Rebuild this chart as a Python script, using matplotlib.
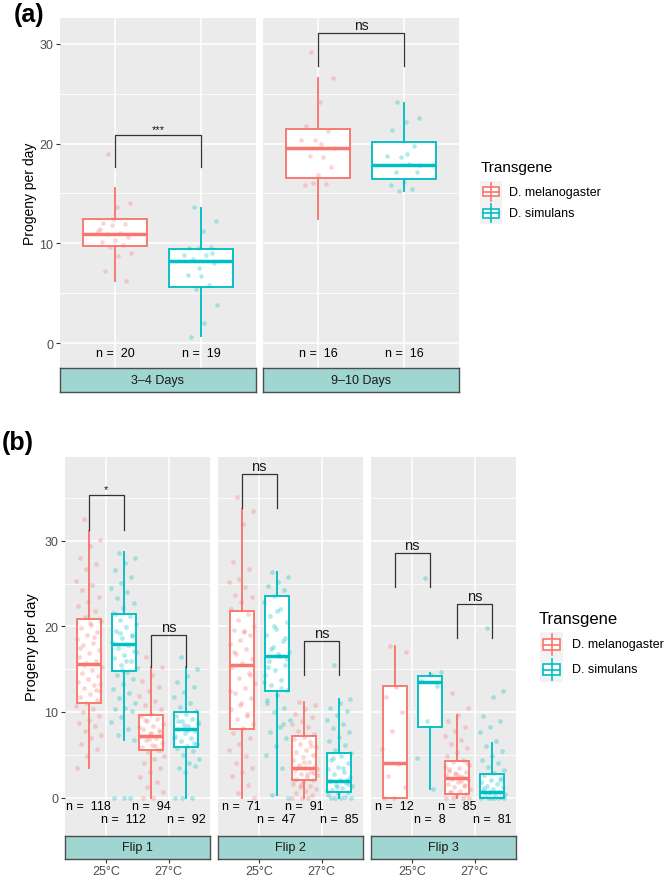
import numpy as np
import matplotlib
matplotlib.use("Agg")
import matplotlib.pyplot as plt
from matplotlib.patches import Rectangle

plt.rcParams["font.family"] = ["Liberation Sans", "DejaVu Sans"]

RED = "#F8766D"
TEAL = "#00BFC4"
PANEL_BG = "#EBEBEB"
STRIP_BG = "#9FD6D1"
W, H = 665, 878

# --- panel (a) data ---
a_facets = ["3–4 Days", "9–10 Days"]
a_groups = ["D. melanogaster", "D. simulans"]
# (whislo, q1, med, q3, whishi) for [melanogaster, simulans]
a_stats = [
    [(6.2, 9.7, 10.95, 12.4, 15.6), (0.7, 5.64, 8.26, 9.43, 13.56)],
    [(12.4, 16.6, 19.6, 21.5, 26.55), (15.3, 16.5, 17.9, 20.17, 24.1)],
]
a_n = [[20, 19], [16, 16]]
a_points = [
    [[19.0, 14.0, 13.6, 12.0, 11.9, 11.8, 11.2, 11.0, 10.9, 10.6, 10.3, 10.1, 9.8, 9.6, 9.0, 8.7, 7.25, 6.2, 12.4, 11.4],
     [13.6, 12.2, 11.2, 9.5, 9.6, 9.5, 8.85, 8.85, 8.4, 8.0, 6.7, 6.85, 5.8, 5.4, 3.8, 2.0, 0.6, 9.0, 7.5]],
    [[29.2, 26.6, 24.2, 21.8, 21.3, 20.4, 20.4, 18.7, 18.8, 17.65, 16.85, 15.85, 16.0, 16.1, 19.6, 20.0],
     [24.2, 22.6, 22.2, 21.4, 19.8, 18.7, 18.8, 18.0, 17.2, 17.2, 16.2, 15.85, 15.5, 15.25, 17.9, 19.0]],
]
a_sig = ["***", "ns"]
a_bracket = [(17.65, 20.9), (27.8, 31.1)]

# --- panel (b) data ---
b_facets = ["Flip 1", "Flip 2", "Flip 3"]
b_temps = ["25°C", "27°C"]
# per facet: [mel 25, sim 25, mel 27, sim 27]
b_stats = [
    [(3.5, 11.0, 15.55, 20.9, 31.2), (6.7, 14.8, 17.9, 21.5, 28.65),
     (0, 5.57, 7.2, 9.66, 15.2), (0, 5.85, 7.95, 10.0, 15.2)],
    [(0, 7.95, 15.5, 21.75, 33.7), (0.3, 12.5, 16.5, 23.5, 26.4),
     (0, 2.0, 3.43, 7.2, 11.2), (0, 0.7, 1.95, 5.2, 11.5)],
    [(0, 0, 4.0, 13.05, 17.75), (1.0, 8.2, 13.5, 14.2, 14.6),
     (0, 0.45, 2.3, 4.25, 9.7), (0, 0, 0.7, 2.73, 6.4)],
]
b_n = [[118, 112, 94, 92], [71, 47, 91, 85], [12, 8, 85, 81]]
b_sig = [["*", "ns"], ["ns", "ns"], ["ns", "ns"]]
b_bracket = [[(31.3, 35.4), (15.2, 19.05)],
             [(33.8, 37.8), (14.3, 18.3)],
             [(24.55, 28.6), (18.6, 22.6)]]

b1_mel25 = [32.6, 30.1, 29.4, 28.0, 27.3, 26.7, 25.3, 24.8, 24.2, 23.4, 22.9, 22.4, 21.8, 21.1, 20.6, 20.2, 19.8,
            19.3, 19.0, 18.5, 18.1, 17.8, 17.2, 16.9, 16.4, 16.0, 15.7, 15.3, 14.9, 14.6, 14.2, 13.9, 13.5, 13.1,
            12.8, 12.4, 12.1, 11.8, 11.4, 11.1, 10.7, 10.4, 10.0, 9.5, 9.1, 8.7, 8.3, 7.8, 7.3, 6.9, 6.3, 5.7,
            4.9, 3.5, 18.8, 15.5, 13.3, 20.4, 17.5, 12.6]
b1_sim25 = [28.6, 28.0, 27.4, 26.6, 25.8, 25.1, 24.5, 24.0, 23.3, 22.7, 22.1, 21.6, 21.2, 20.8, 20.3, 19.9, 19.5,
            19.0, 18.6, 18.2, 17.8, 17.5, 17.1, 16.7, 16.3, 15.9, 15.5, 15.1, 14.7, 14.3, 13.8, 13.3, 12.7, 12.2,
            11.6, 11.0, 10.5, 10.3, 10.1, 9.4, 8.8, 8.0, 7.3, 6.7, 0.0, 0.0, 0.0, 19.2, 17.0, 16.0, 21.4, 18.9, 14.9]
b1_mel27 = [16.4, 15.2, 14.3, 13.6, 12.9, 12.4, 11.9, 11.3, 10.8, 10.3, 9.8, 9.5, 9.2, 8.9, 8.6, 8.3, 8.0, 7.7,
            7.4, 7.2, 7.0, 6.7, 6.4, 6.1, 5.9, 5.6, 5.3, 4.9, 4.5, 4.0, 3.5, 3.0, 2.4, 1.8, 1.2, 0.6, 0.0, 0.0,
            7.9, 6.8, 8.2, 6.0, 9.1, 5.5, 7.5]
b1_sim27 = [16.4, 15.0, 14.2, 13.5, 12.9, 12.3, 11.7, 11.1, 10.6, 10.1, 9.8, 9.5, 9.2, 8.9, 8.6, 8.3, 8.0, 7.8,
            7.5, 7.2, 6.9, 6.6, 6.3, 6.0, 5.8, 5.4, 5.0, 4.5, 4.0, 3.5, 3.7, 3.0, 0.0, 0.0, 0.0, 8.8, 7.9, 9.0,
            6.4, 8.5, 7.0]
b2_mel25 = [35.1, 33.5, 32.0, 27.5, 26.7, 25.5, 25.2, 24.6, 23.7, 23.4, 22.8, 22.0, 21.4, 20.8, 20.1, 19.5, 19.6,
            19.0, 18.4, 17.9, 17.3, 16.8, 16.2, 15.7, 15.2, 14.6, 14.0, 13.4, 12.8, 12.2, 11.6, 11.0, 10.4, 9.8,
            9.2, 8.6, 8.1, 7.5, 7.0, 6.2, 5.5, 4.8, 4.0, 3.5, 3.0, 2.5, 1.5, 0.5, 0.0, 19.4, 17.0, 14.3, 10.8,
            12.5, 9.5]
b2_sim25 = [26.4, 25.8, 25.2, 24.7, 24.2, 23.5, 22.9, 22.0, 21.2, 20.5, 19.7, 19.0, 18.3, 17.6, 17.0, 16.5, 16.0,
            15.5, 14.9, 14.3, 13.7, 13.1, 12.6, 12.0, 11.4, 10.5, 10.0, 9.1, 8.2, 7.6, 7.0, 6.0, 5.0, 3.5, 0.3,
            0.0, 16.8, 15.2, 18.6, 20.0, 13.5, 12.8, 17.4, 16.2, 21.8, 11.0, 8.6]
b2_mel27 = [11.2, 10.8, 10.3, 9.8, 9.4, 9.0, 8.6, 8.2, 7.8, 7.4, 7.1, 6.8, 6.5, 6.2, 5.9, 5.6, 5.3, 5.0, 4.7,
            4.4, 4.1, 3.8, 3.6, 3.4, 3.2, 3.0, 2.8, 2.6, 2.4, 2.2, 2.0, 1.8, 1.6, 1.4, 1.2, 1.0, 0.8, 0.5, 0.3,
            0.0, 0.0, 0.0, 3.5, 2.9, 4.2, 2.1, 6.0, 1.5, 3.3, 2.7]
b2_sim27 = [15.5, 11.5, 11.0, 10.5, 10.1, 9.6, 9.1, 8.6, 8.1, 7.6, 7.1, 6.6, 6.1, 5.6, 5.2, 4.8, 4.4, 4.0, 3.6,
            3.3, 3.0, 2.7, 2.4, 2.1, 1.9, 1.7, 1.5, 1.3, 1.1, 0.9, 0.7, 0.5, 0.3, 0.1, 0.0, 0.0, 0.0, 0.0, 2.0,
            1.2, 0.8, 3.5, 4.6, 1.6]
b3_mel25 = [17.7, 17.0, 12.9, 11.8, 10.0, 7.8, 5.65, 3.9, 2.5, 1.2, 0.0, 0.0]
b3_sim25 = [25.7, 14.7, 14.3, 13.6, 13.0, 9.0, 4.6, 1.0]
b3_mel27 = [12.2, 10.5, 9.7, 9.0, 8.2, 7.8, 7.2, 6.7, 6.2, 5.8, 5.3, 4.8, 4.4, 4.1, 3.8, 3.5, 3.3, 3.0, 2.8,
            2.6, 2.4, 2.2, 2.0, 1.8, 1.6, 1.4, 1.2, 1.0, 0.8, 0.6, 0.4, 0.2, 0.0, 0.0, 0.0, 0.0, 2.5, 3.1, 1.5,
            2.9, 3.6, 1.9, 0.7, 4.0]
b3_sim27 = [19.8, 12.4, 11.7, 9.55, 9.0, 8.2, 7.6, 6.6, 6.0, 5.4, 4.9, 4.4, 4.0, 3.6, 3.2, 2.9, 2.6, 2.3, 2.0,
            1.8, 1.6, 1.4, 1.2, 1.0, 0.8, 0.6, 0.5, 0.4, 0.3, 0.2, 0.1, 0.0, 0.0, 0.0, 0.0, 0.0, 0.0, 1.1, 2.1, 0.7]
b_points = [[b1_mel25, b1_sim25, b1_mel27, b1_sim27],
            [b2_mel25, b2_sim25, b2_mel27, b2_sim27],
            [b3_mel25, b3_sim25, b3_mel27, b3_sim27]]

fig = plt.figure(figsize=(W / 100, H / 100), dpi=100)


def px_axes(l, t, r, b):
    return fig.add_axes([l / W, 1 - b / H, (r - l) / W, (b - t) / H])


def style_panel(ax, ylim, major, minor, xlim, xgrid, show_y):
    ax.set_facecolor(PANEL_BG)
    ax.set_xlim(*xlim)
    ax.set_ylim(*ylim)
    for s in ax.spines.values():
        s.set_visible(False)
    for v in minor:
        ax.axhline(v, color="white", lw=0.55, zorder=0)
    for v in major:
        ax.axhline(v, color="white", lw=1.1, zorder=0)
    for v in xgrid:
        ax.axvline(v, color="white", lw=1.1, zorder=0)
    ax.set_xticks([])
    if show_y:
        ax.set_yticks(major)
        ax.set_yticklabels([str(v) for v in major])
        ax.tick_params(axis="y", length=3, width=0.8, color="#333333",
                       labelcolor="#4D4D4D", labelsize=9, pad=2)
    else:
        ax.set_yticks([])


def jitter(n, width):
    return ((np.arange(n) * 0.618034 + 0.31) % 1.0 - 0.5) * 2 * width


def draw_boxes(ax, stats, positions, colors, width):
    for st, p, c in zip(stats, positions, colors):
        d = dict(whislo=st[0], q1=st[1], med=st[2], q3=st[3], whishi=st[4])
        ax.bxp([d], positions=[p], widths=width, showfliers=False, showcaps=False,
               patch_artist=True, manage_ticks=False,
               boxprops=dict(facecolor="white", edgecolor=c, linewidth=1.35),
               whiskerprops=dict(color=c, linewidth=1.35),
               medianprops=dict(color=c, linewidth=2.5), zorder=2)


def draw_bracket(ax, x0, x1, lo, hi, label, size):
    ax.plot([x0, x0, x1, x1], [lo, hi, hi, lo], color="#333333", lw=0.9, zorder=3)
    ax.annotate(label, ((x0 + x1) / 2, hi), xytext=(0, 0.5), textcoords="offset points",
                ha="center", va="bottom", fontsize=size, color="#1A1A1A")


def draw_strip(l, t, r, b, label, xlim, ticks=None):
    sax = px_axes(l, t, r, b)
    sax.set_facecolor(STRIP_BG)
    sax.set_xlim(*xlim)
    sax.set_ylim(0, 1)
    for s in sax.spines.values():
        s.set_color("#4D4D4D")
        s.set_linewidth(1.0)
    sax.set_yticks([])
    sax.text(np.mean(xlim), 0.5, label, ha="center", va="center", fontsize=9, color="#1A1A1A")
    if ticks is None:
        sax.set_xticks([])
    else:
        sax.set_xticks([1, 2])
        sax.set_xticklabels(ticks)
        sax.tick_params(axis="x", length=3, width=0.8, color="#333333",
                        labelcolor="#4D4D4D", labelsize=9, pad=1.5)


def draw_legend(tx, ty, kx0, ky0, kx1, ky1, label_x, title_size, label_size):
    fig.text(tx / W, 1 - ty / H, "Transgene", ha="left", va="center", fontsize=title_size)
    kax = px_axes(kx0, ky0, kx1, ky1)
    kax.set_xlim(0, 1)
    kax.set_ylim(0, 2)
    kax.set_facecolor("#F2F2F2")
    kax.set_xticks([])
    kax.set_yticks([])
    for s in kax.spines.values():
        s.set_visible(False)
    for i, (c, g) in enumerate(zip([RED, TEAL], a_groups)):
        yc = 1.5 - i
        kax.plot([0.5, 0.5], [yc - 0.42, yc + 0.42], color=c, lw=1.2)
        kax.add_patch(Rectangle((0.12, yc - 0.22), 0.76, 0.44, facecolor="white", edgecolor=c, lw=1.2))
        kax.plot([0.12, 0.88], [yc, yc], color=c, lw=1.2)
        ly = ky0 + (ky1 - ky0) * (0.25 + 0.5 * i)
        fig.text(label_x / W, 1 - ly / H, g, ha="left", va="center", fontsize=label_size)


# --- panel (a) ---
a_boxes = [(60, 19, 256, 369), (263, 19, 459, 369)]
a_xlim = (0.36, 2.64)
for k, (l, t, r, b) in enumerate(a_boxes):
    ax = px_axes(l, t, r, b)
    style_panel(ax, (-2.5, 32.6), [0, 10, 20, 30], [5, 15, 25], a_xlim, [1, 2], k == 0)
    draw_boxes(ax, a_stats[k], [1, 2], [RED, TEAL], 0.75)
    for j, (pts, c) in enumerate(zip(a_points[k], [RED, TEAL])):
        xs = 1 + j + jitter(len(pts), 0.2)
        ax.scatter(xs, pts, s=11, color=c, alpha=0.3, lw=0, zorder=3)
        ax.text(1 + j, -1.0, "n =  %d" % a_n[k][j], ha="center", va="center", fontsize=9)
    draw_bracket(ax, 1, 2, a_bracket[k][0], a_bracket[k][1], a_sig[k], 10 if a_sig[k] == "ns" else 8)
    draw_strip(l, 369, r, 393, a_facets[k], a_xlim)

fig.text(30 / W, 1 - 194 / H, "Progeny per day", rotation=90, ha="center", va="center", fontsize=10)
fig.text(29 / W, 1 - 15 / H, "(a)", ha="center", va="center", fontsize=18, fontweight="bold")
draw_legend(481, 168, 480, 182, 502, 225, 509, 11, 9)

# --- panel (b) ---
b_boxes = [(65, 458, 210, 837), (218, 458, 363, 837), (371, 458, 516, 837)]
b_xlim = (0.34, 2.66)
off = 0.28
for k, (l, t, r, b) in enumerate(b_boxes):
    ax = px_axes(l, t, r, b)
    style_panel(ax, (-4.5, 39.8), [0, 10, 20, 30], [5, 15, 25, 35], b_xlim, [1, 2], k == 0)
    pos = [1 - off, 1 + off, 2 - off, 2 + off]
    cols = [RED, TEAL, RED, TEAL]
    draw_boxes(ax, b_stats[k], pos, cols, 0.38)
    for j in range(4):
        pts = b_points[k][j]
        xs = pos[j] + jitter(len(pts), 0.21)
        ax.scatter(xs, pts, s=12, color=cols[j], alpha=0.3, lw=0, zorder=3)
        ny = -1.0 if j % 2 == 0 else -2.55
        ax.text(pos[j], ny, "n =  %d" % b_n[k][j], ha="center", va="center", fontsize=9)
    for ti in range(2):
        lo, hi = b_bracket[k][ti]
        lab = b_sig[k][ti]
        draw_bracket(ax, 1 + ti - off, 1 + ti + off, lo, hi, lab, 10.5 if lab == "ns" else 8)
    draw_strip(l, 837, r, 860, b_facets[k], b_xlim, ticks=b_temps)

fig.text(32 / W, 1 - 647 / H, "Progeny per day", rotation=90, ha="center", va="center", fontsize=10.5)
fig.text(18 / W, 1 - 443 / H, "(b)", ha="center", va="center", fontsize=18, fontweight="bold")
draw_legend(539, 620, 540, 633, 563, 683, 572, 12, 9)

fig.savefig("out.png", dpi=100)
